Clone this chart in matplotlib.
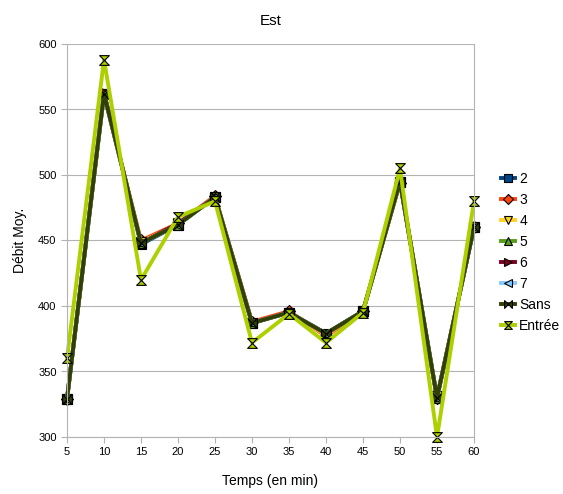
import matplotlib
matplotlib.use("Agg")
import matplotlib.pyplot as plt
from matplotlib.path import Path

plt.rcParams["font.family"] = ["Liberation Sans", "DejaVu Sans"]

temps = [5, 10, 15, 20, 25, 30, 35, 40, 45, 50, 55, 60]
s2 = [329, 562, 447, 462, 483, 387, 395, 379, 396, 495, 330, 460]
s3 = [329, 561, 450, 463, 484, 388, 396, 377, 396, 494, 330, 460]
s4 = [329, 562, 449, 462, 483, 387, 395, 378, 396, 495, 331, 460]
s5 = [329, 562, 448, 462, 483, 387, 395, 379, 396, 495, 330, 460]
s6 = [329, 563, 448, 463, 483, 387, 395, 379, 396, 495, 330, 460]
s7 = [329, 562, 448, 462, 483, 387, 395, 379, 396, 495, 330, 460]
sans = [329, 562, 448, 462, 483, 387, 395, 379, 396, 495, 330, 460]
entree = [360, 588, 420, 468, 480, 372, 394, 372, 395, 505, 300, 480]

bowtie = Path([(-1, -1), (1, 1), (1, -1), (-1, 1), (-1, -1)],
              [Path.MOVETO, Path.LINETO, Path.LINETO, Path.LINETO, Path.CLOSEPOLY])
hourglass = Path([(-1, 1), (1, 1), (-1, -1), (1, -1), (-1, 1)],
                 [Path.MOVETO, Path.LINETO, Path.LINETO, Path.LINETO, Path.CLOSEPOLY])

series = [
    ("2", s2, "#004586", "s"),
    ("3", s3, "#ff420e", "D"),
    ("4", s4, "#ffd320", "v"),
    ("5", s5, "#579d1c", "^"),
    ("6", s6, "#7e0021", ">"),
    ("7", s7, "#83caff", "<"),
    ("Sans", sans, "#314004", bowtie),
    ("Entrée", entree, "#aecf00", hourglass),
]

fig = plt.figure(figsize=(5.63, 4.94), dpi=100)
ax = fig.add_axes([67 / 563, 1 - 437 / 494, (474 - 67) / 563, (437 - 44) / 494])

for name, vals, col, mk in series:
    ms = 6 if mk == "D" else 7
    ax.plot(temps, vals, color=col, lw=2.8, marker=mk, ms=ms,
            markerfacecolor=col, markeredgecolor="black", markeredgewidth=0.8,
            label=name, clip_on=False)

ax.set_xlim(5, 60)
ax.set_ylim(300, 600)
ax.set_xticks(temps)
ax.set_yticks(range(300, 601, 50))
ax.tick_params(labelsize=8, color="#b3b3b3", length=4)
ax.grid(True, axis="y", color="#b3b3b3", lw=0.8)
ax.set_axisbelow(True)
for sp in ax.spines.values():
    sp.set_color("#b3b3b3")
ax.spines["top"].set_visible(False)

ax.set_title("Est", fontsize=11, pad=14)
ax.set_xlabel("Temps (en min)", fontsize=10, labelpad=12)
ax.set_ylabel("Débit Moy.", fontsize=10, labelpad=8)

leg = ax.legend(loc="center left", bbox_to_anchor=(1.05, 0.47), frameon=False,
                fontsize=10, handlelength=1.0, handletextpad=0.3,
                labelspacing=0.5, borderpad=0, markerscale=0.8)

fig.savefig("out.png", dpi=100)
